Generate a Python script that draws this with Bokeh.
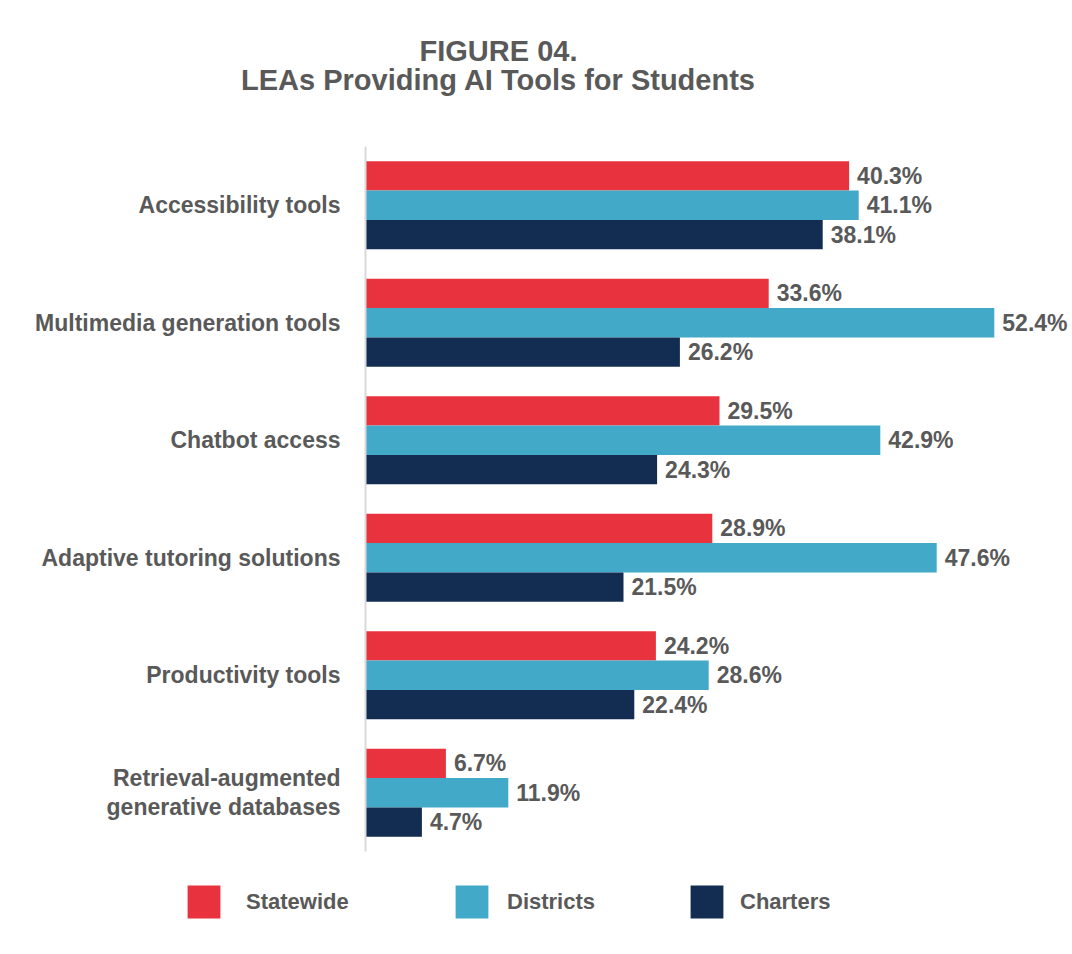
from bokeh.plotting import figure
from bokeh.models import (ColumnDataSource, Range1d, Label, Legend, LegendItem,
                          LinearAxis, FixedTicker)
from bokeh.transform import dodge
from bokeh.core.properties import value
from bokeh.embed import file_html
from bokeh.resources import INLINE

# ---- data ----
categories = [
    "Accessibility tools",
    "Multimedia generation tools",
    "Chatbot access",
    "Adaptive tutoring solutions",
    "Productivity tools",
    "Retrieval-augmented\ngenerative databases",
]
statewide = [40.3, 33.6, 29.5, 28.9, 24.2, 6.7]
districts = [41.1, 52.4, 42.9, 47.6, 28.6, 11.9]
charters = [38.1, 26.2, 24.3, 21.5, 22.4, 4.7]
series_names = ["Statewide", "Districts", "Charters"]
series_values = [statewide, districts, charters]
series_colors = ["#E8323E", "#42AAC8", "#132C52"]
title_lines = ["FIGURE 04.", "LEAs Providing AI Tools for Students"]

FONT = "Liberation Sans"
GRAY = "#595959"
W, H = 1072, 954
LEFT = 20                      # frame left border (px)
PX_PER_PCT = 12.0              # horizontal scale
ZERO_X = 365                   # pixel column of the value axis
BAND = 117.5                   # pixel height of one category band
TOP, BOTTOM = 146, 103         # space above / below the bars

n = len(categories)
ypos = [n - 1 - i for i in range(n)]          # first category on top

x_range = Range1d(-(ZERO_X - LEFT) / PX_PER_PCT, (W - ZERO_X) / PX_PER_PCT)
y_range = Range1d(-0.5 - BOTTOM / BAND, n - 0.5 + TOP / BAND)

p = figure(width=W, height=H, x_range=x_range, y_range=y_range,
           output_backend="svg", toolbar_location=None,
           x_axis_location=None, y_axis_location=None, title=None,
           min_border_left=LEFT, min_border_right=0, min_border_top=0, min_border_bottom=0)
p.outline_line_color = None
p.grid.visible = False
p.background_fill_color = "white"
p.border_fill_color = "white"

# value axis line (no ticks, no labels), drawn at x = 0 and limited to the bars' span
yax = LinearAxis(fixed_location=0, ticker=FixedTicker(ticks=[]), bounds=(-0.5, n - 0.5),
                 axis_line_color="#D9D9D9", axis_line_width=2,
                 major_tick_line_color=None, minor_tick_line_color=None,
                 major_label_text_font_size="0px")
p.add_layout(yax, "left")

# category labels
cat_src = ColumnDataSource(dict(y=ypos, name=categories, x=[0] * n))
p.text(x="x", y="y", text="name", source=cat_src, x_offset=-25,
       text_align="right", text_baseline="middle", text_line_height=1.1,
       text_font=value(FONT), text_font_style="bold", text_font_size="23px",
       text_color=GRAY)

offsets = [0.25, 0.0, -0.25]
renderers = []
for name, vals, col, off in zip(series_names, series_values, series_colors, offsets):
    src = ColumnDataSource(dict(y=ypos, val=vals, lbl=[f"{v:.1f}%" for v in vals]))
    r = p.hbar(y=dodge("y", off), left=0, right="val", height=0.25,
               fill_color=col, line_color=None, source=src)
    renderers.append(r)
    p.text(x="val", y=dodge("y", off), text="lbl", source=src,
           x_offset=8, text_align="left", text_baseline="middle",
           text_font=value(FONT), text_font_style="bold", text_font_size="23px",
           text_color=GRAY)

# title (two centred lines)
for txt, base in zip(title_lines, [50, 79]):
    p.add_layout(Label(x=498 - LEFT, y=H - base, x_units="screen", y_units="screen",
                       text=txt, text_align="center", text_baseline="alphabetic",
                       text_font=FONT, text_font_style="bold", text_font_size="29px",
                       text_color=GRAY))

# legend: one per series so each sits where the reference puts it
legend_left = [183, 451, 686]
legend_standoff = [22, 15, 13]
for name, r, lx, so in zip(series_names, renderers, legend_left, legend_standoff):
    lg = Legend(items=[LegendItem(label=name, renderers=[r])],
                location=(lx - LEFT, H - 922), orientation="horizontal",
                glyph_width=41, glyph_height=41, label_standoff=so,
                padding=0, margin=0, border_line_color=None,
                background_fill_alpha=0, label_text_font=FONT,
                label_text_font_style="bold", label_text_font_size="22px",
                label_text_color=GRAY)
    p.add_layout(lg, "center")

open("out.html", "w").write(file_html(p, INLINE))
